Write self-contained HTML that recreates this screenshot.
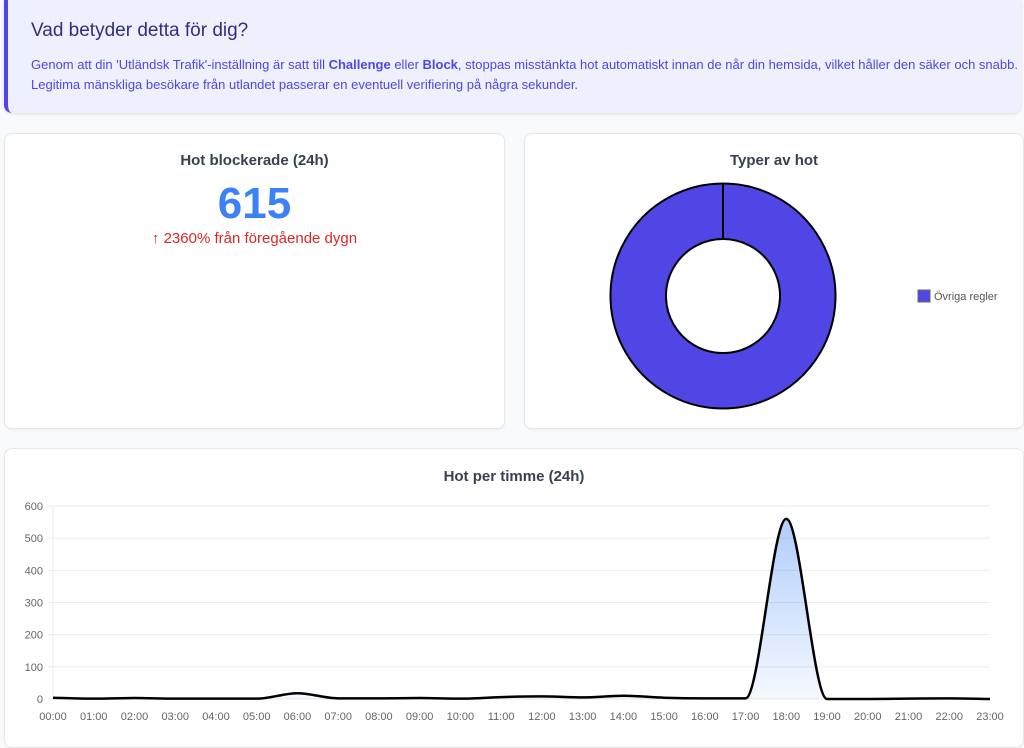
<!DOCTYPE html>
<html><head><meta charset="utf-8"><style>
*{box-sizing:border-box}
body{margin:0;width:1024px;height:730px;overflow:hidden;background:#f9fafb;font-family:"Liberation Sans",sans-serif;position:relative}
.banner{position:absolute;left:4px;top:0;width:1017px;height:113px;background:#eef0fd;border-left:4px solid #4f46e5;border-radius:0 0 8px 8px;box-shadow:0 1px 3px rgba(0,0,0,.12);padding:20px 0 0 23px}
.banner h2{margin:0 0 13px 0;font-size:19px;font-weight:normal;color:#312e81}
.banner p{margin:0;font-size:13px;line-height:20px;color:#4f46e5}
.card{position:absolute;background:#fff;border:1px solid #e5e7eb;border-radius:8px;box-shadow:0 1px 2px rgba(0,0,0,.05)}
.ct{position:absolute;left:0;right:0;text-align:center;font-size:15px;font-weight:bold;color:#374151}
</style></head><body>
<div class="banner">
<h2>Vad betyder detta för dig?</h2>
<p>Genom att din 'Utländsk Trafik'-inställning är satt till <b>Challenge</b> eller <b>Block</b>, stoppas misstänkta hot automatiskt innan de når din hemsida, vilket håller den säker och snabb. Legitima mänskliga besökare från utlandet passerar en eventuell verifiering på några sekunder.</p>
</div>
<div class="card" style="left:4px;top:133px;width:501px;height:296px">
<div class="ct" style="top:18px">Hot blockerade (24h)</div>
<div style="position:absolute;left:0;right:0;top:45px;text-align:center;font-size:44px;font-weight:bold;color:#3b82f6">615</div>
<div style="position:absolute;left:0;right:0;top:96px;text-align:center;font-size:15px;color:#dc2626">↑ 2360% från föregående dygn</div>
</div>
<div class="card" style="left:524px;top:133px;width:500px;height:296px">
<div class="ct" style="top:18px">Typer av hot</div>
</div>
<svg style="position:absolute;left:0;top:0" width="1024" height="730" id="donut"></svg>
<div class="card" style="left:4px;top:448px;width:1020px;height:300px">
<div class="ct" style="top:19px">Hot per timme (24h)</div>
</div>
<svg style="position:absolute;left:0;top:0" width="1024" height="730" id="line"></svg>
<script>
const NS="http://www.w3.org/2000/svg";
function mk(p,t,a){const e=document.createElementNS(NS,t);for(const k in a)e.setAttribute(k,a[k]);p.appendChild(e);return e;}
// donut data
const sliceLabels=["Övriga regler"];
const sliceValues=[615];
const dg=document.getElementById('donut');
const cx=723,cy=296,R=112.5,r=57;
const tot=sliceValues.reduce((a,b)=>a+b,0);
let a0=-Math.PI/2;
sliceValues.forEach((v,i)=>{
 const a1=a0+v/tot*2*Math.PI;
 let d;
 if(v/tot>=0.9999){
  d=`M${cx} ${cy-R}A${R} ${R} 0 1 1 ${cx-0.01} ${cy-R}L${cx-0.01} ${cy-r}A${r} ${r} 0 1 0 ${cx} ${cy-r}Z`;
 }else{
  const lg=(a1-a0)>Math.PI?1:0;
  d=`M${cx+R*Math.cos(a0)} ${cy+R*Math.sin(a0)}A${R} ${R} 0 ${lg} 1 ${cx+R*Math.cos(a1)} ${cy+R*Math.sin(a1)}L${cx+r*Math.cos(a1)} ${cy+r*Math.sin(a1)}A${r} ${r} 0 ${lg} 0 ${cx+r*Math.cos(a0)} ${cy+r*Math.sin(a0)}Z`;
 }
 const p=mk(dg,'path',{d:d,fill:'#4f46e5',stroke:'#000','stroke-width':2});
 
 
 const s=mk(dg,'rect',{x:918,y:290+i*18,width:12,height:12,fill:'#4f46e5',stroke:'#666','stroke-width':1});
 
 
 const t=mk(dg,'text',{x:934,y:300+i*18,'font-size':11,fill:'#555','font-family':'Liberation Sans'});
 t.textContent=sliceLabels[i];
 
 
 a0=a1;
});
// line data
const hours=["00:00","01:00","02:00","03:00","04:00","05:00","06:00","07:00","08:00","09:00","10:00","11:00","12:00","13:00","14:00","15:00","16:00","17:00","18:00","19:00","20:00","21:00","22:00","23:00"];
const threats=[4,1,3,1,1,1,18,2,2,3,1,6,8,5,10,4,2,2,560,0,0,1,2,0];
const yTicks=[0,100,200,300,400,500,600];
const lg=document.getElementById('line');
const X0=53,X1=990,Y0=699,Y1=506,YMAX=600;
const xs=i=>X0+i*(X1-X0)/(hours.length-1);
const ys=v=>Y0-v/YMAX*(Y0-Y1);
const defs=mk(lg,'defs',{});
const gr=mk(defs,'linearGradient',{id:'fg',x1:0,y1:0,x2:0,y2:1});
mk(gr,'stop',{offset:0,'stop-color':'#3b82f6','stop-opacity':0.4});
mk(gr,'stop',{offset:1,'stop-color':'#3b82f6','stop-opacity':0.05});
yTicks.forEach(v=>{
 const l=mk(lg,'line',{x1:X0-5,x2:X1,y1:ys(v),y2:ys(v),stroke:'#ebebeb','stroke-width':1});
 
 
 const t=mk(lg,'text',{x:X0-10,y:ys(v)+4,'text-anchor':'end','font-size':11,fill:'#666','font-family':'Liberation Sans'});
 t.textContent=v;
 
 
});
mk(lg,'line',{x1:X0,x2:X0,y1:Y1,y2:Y0,stroke:'#ebebeb'});
hours.forEach((h,i)=>{
 const t=mk(lg,'text',{x:xs(i),y:720,'text-anchor':'middle','font-size':11,fill:'#666','font-family':'Liberation Sans'});
 t.textContent=h;
 
 
});
// monotone cubic
const n=threats.length,px=threats.map((v,i)=>xs(i)),py=threats.map(v=>ys(v));
const dl=[],m=[];
for(let i=0;i<n-1;i++)dl.push((py[i+1]-py[i])/(px[i+1]-px[i]));
for(let i=0;i<n;i++){
 if(i==0)m.push(dl[0]);else if(i==n-1)m.push(dl[n-2]);
 else m.push(dl[i-1]*dl[i]<=0?0:(dl[i-1]+dl[i])/2);
}
for(let i=0;i<n-1;i++){
 if(dl[i]==0){m[i]=0;m[i+1]=0;continue;}
 const a=m[i]/dl[i],b=m[i+1]/dl[i],s=a*a+b*b;
 if(s>9){const t=3/Math.sqrt(s);m[i]=t*a*dl[i];m[i+1]=t*b*dl[i];}
}
let d=`M${px[0]} ${py[0]}`;
for(let i=0;i<n-1;i++){
 const h=(px[i+1]-px[i])/3;
 d+=`C${px[i]+h} ${py[i]+m[i]*h} ${px[i+1]-h} ${py[i+1]-m[i+1]*h} ${px[i+1]} ${py[i+1]}`;
}
const area=mk(lg,'path',{d:d+`L${px[n-1]} ${Y0}L${px[0]} ${Y0}Z`,fill:'url(#fg)'});


const ln=mk(lg,'path',{d:d,fill:'none',stroke:'#000','stroke-width':2.5});


</script>
</body></html>
